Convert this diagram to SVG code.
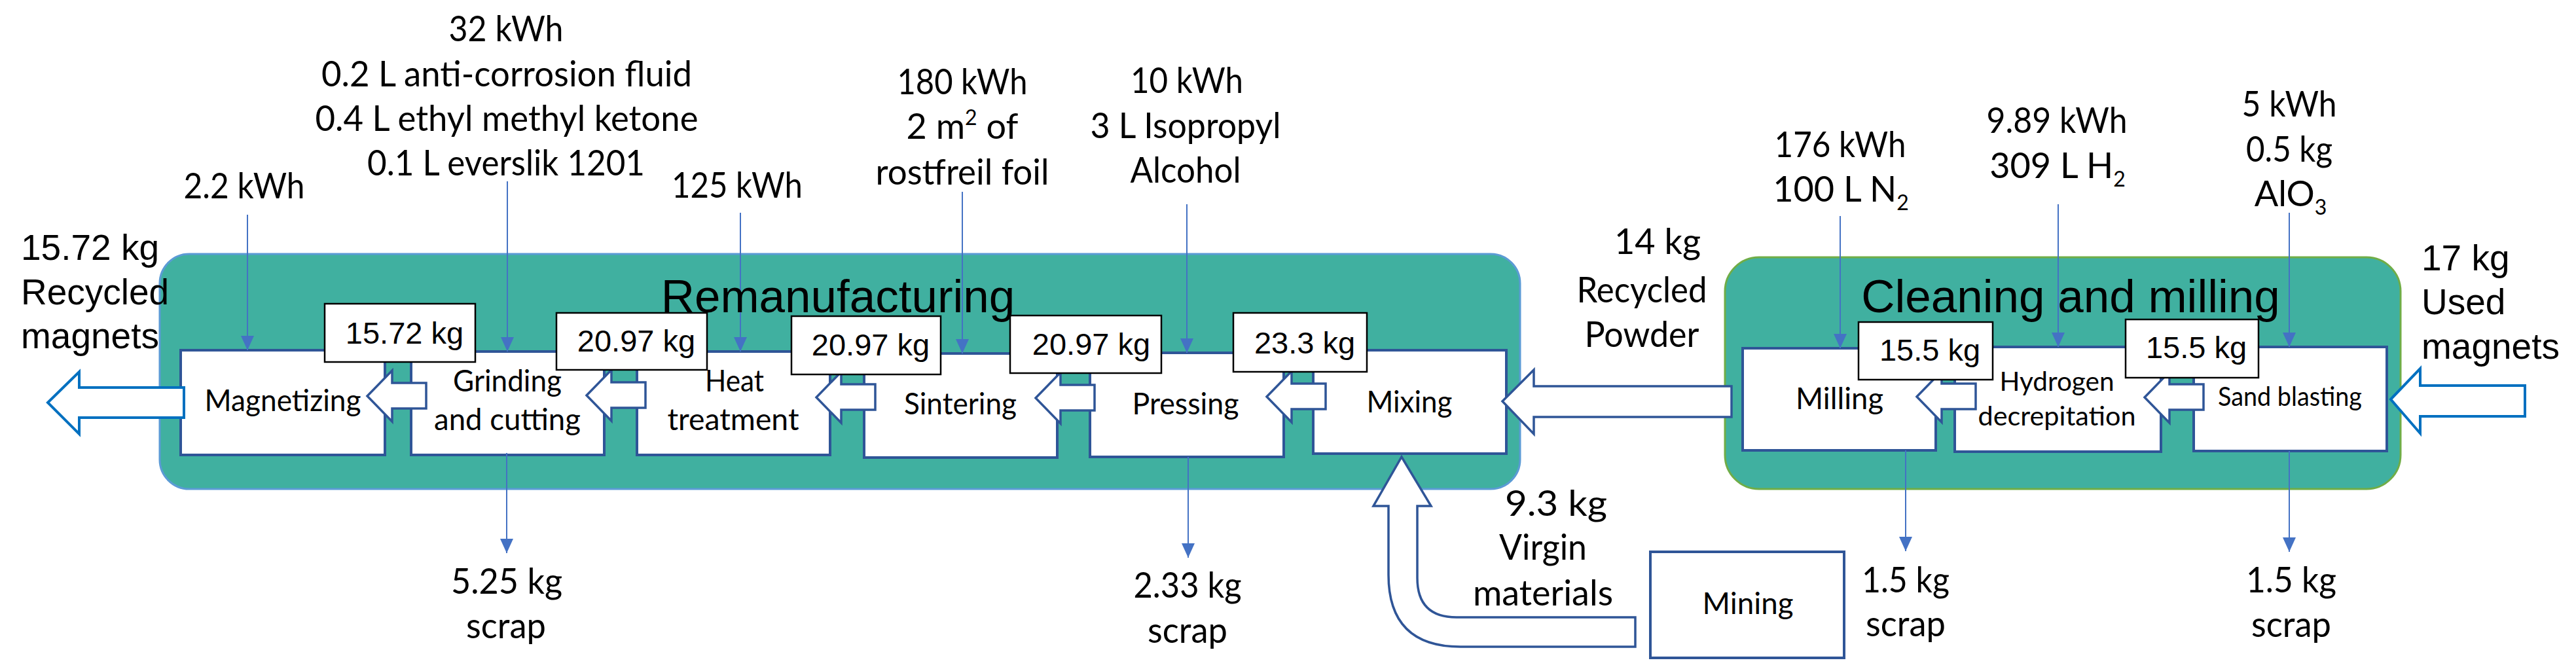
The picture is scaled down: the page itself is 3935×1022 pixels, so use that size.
<svg xmlns="http://www.w3.org/2000/svg" width="3935" height="1022" viewBox="0 0 3935 1022">
<style>
.cont-r{fill:#40B0A0;stroke:#5B9BD5;stroke-width:3}
.cont-c{fill:#40B0A0;stroke:#70AD47;stroke-width:3}
.proc{fill:#fff;stroke:#2F5597;stroke-width:4}
.kg{fill:#fff;stroke:#000;stroke-width:2.5}
.blk{fill:#fff;stroke:#2F5597;stroke-width:3.5}
.blk2{fill:#fff;stroke:#0070C0;stroke-width:4}
.thin{stroke:#4472C4;stroke-width:2;fill:none;marker-end:url(#ah)}
.ar{font-family:"Liberation Sans",Arial,sans-serif;fill:#000}
.ca{font-family:Lato,"Open Sans",sans-serif;fill:#000}
.t50{font-size:54px;text-anchor:middle}
.t43{font-size:47px;text-anchor:middle}
.t38{font-size:41px;text-anchor:middle}
.kgt{font-size:47px;text-anchor:middle}
.side{font-size:55px}
.title{font-size:71px;text-anchor:middle}
</style>
<defs>
<marker id="ah" markerUnits="userSpaceOnUse" markerWidth="22" markerHeight="20" viewBox="0 0 22 20" refX="22" refY="10" orient="auto"><path d="M0,0 L22,10 L0,20 Z" fill="#4472C4"/></marker>
<path id="sa" d="M0,0 L38,-39 L38,-20 L90,-20 L90,19 L38,19 L38,39 Z"/>
</defs>

<g id="remanufacturing">
<rect class="cont-r" x="244" y="388" width="2078" height="359" rx="45" ry="45"/>
</g>
<g id="cleaning-and-milling">
<rect class="cont-c" x="2635" y="393" width="1032" height="354" rx="52" ry="52"/>
</g>

<g id="magnetizing"><rect class="proc" x="276" y="535" width="312" height="160"/><text class="ca t43" x="432" y="628" textLength="239" lengthAdjust="spacingAndGlyphs">Magnetizing</text></g>
<g id="grinding"><rect class="proc" x="628" y="537" width="295" height="158"/><text class="ca t43" x="775" y="598" textLength="166" lengthAdjust="spacingAndGlyphs">Grinding</text><text class="ca t43" x="775" y="657" textLength="224" lengthAdjust="spacingAndGlyphs">and cutting</text></g>
<g id="heat-treatment"><rect class="proc" x="973" y="537" width="295" height="158"/><text class="ca t43" x="1122" y="598" textLength="90" lengthAdjust="spacingAndGlyphs">Heat</text><text class="ca t43" x="1120" y="657" textLength="201" lengthAdjust="spacingAndGlyphs">treatment</text></g>
<g id="sintering"><rect class="proc" x="1320" y="540" width="295" height="159"/><text class="ca t43" x="1467" y="633" textLength="172" lengthAdjust="spacingAndGlyphs">Sintering</text></g>
<g id="pressing"><rect class="proc" x="1665" y="539" width="296" height="159"/><text class="ca t43" x="1811" y="633" textLength="163" lengthAdjust="spacingAndGlyphs">Pressing</text></g>
<g id="mixing"><rect class="proc" x="2006" y="535" width="295" height="158"/><text class="ca t43" x="2153" y="630" textLength="131" lengthAdjust="spacingAndGlyphs">Mixing</text></g>
<g id="milling"><rect class="proc" x="2662" y="532" width="295" height="156"/><text class="ca t43" x="2810" y="625" textLength="134" lengthAdjust="spacingAndGlyphs">Milling</text></g>
<g id="hydrogen-decrepitation"><rect class="proc" x="2986" y="530" width="315" height="160"/><text class="ca t38" x="3142" y="597" textLength="175" lengthAdjust="spacingAndGlyphs">Hydrogen</text><text class="ca t38" x="3142" y="650" textLength="241" lengthAdjust="spacingAndGlyphs">decrepitation</text></g>
<g id="sand-blasting"><rect class="proc" x="3351" y="530" width="295" height="159"/><text class="ca t38" x="3498" y="620" textLength="220" lengthAdjust="spacingAndGlyphs">Sand blasting</text></g>
<g id="mining"><rect class="proc" x="2521" y="843" width="296" height="162"/><text class="ca t43" x="2670" y="938" textLength="139" lengthAdjust="spacingAndGlyphs">Mining</text></g>

<g id="connectors">
<path class="blk2" d="M73,615 L121,568 L121,592 L281,592 L281,638 L121,638 L121,663 Z"/>
<path class="blk2" d="M3652,610 L3697,563 L3697,589 L3857,589 L3857,636 L3697,636 L3697,662 Z"/>
<path class="blk" d="M2295,613 L2343,565 L2343,590 L2645,590 L2645,637 L2343,637 L2343,663 Z"/>
<path class="blk" d="M2141,698 L2186,773 L2165,773 L2165,883 Q2165,943 2225,943 L2498,943 L2498,988 L2231,988 Q2121,988 2121,878 L2121,773 L2098,773 Z"/>
<use href="#sa" class="blk" transform="translate(561,605)"/>
<use href="#sa" class="blk" transform="translate(896,604)"/>
<use href="#sa" class="blk" transform="translate(1247,607)"/>
<use href="#sa" class="blk" transform="translate(1582,608)"/>
<use href="#sa" class="blk" transform="translate(1935,606)"/>
<use href="#sa" class="blk" transform="translate(2928,606)"/>
<use href="#sa" class="blk" transform="translate(3276,607)"/>

<g id="flow-labels">
<rect class="kg" x="496" y="464" width="230" height="89"/><text class="ar kgt" x="618" y="525">15.72 kg</text>
<rect class="kg" x="850" y="478" width="230" height="87"/><text class="ar kgt" x="972" y="537">20.97 kg</text>
<rect class="kg" x="1209" y="483" width="228" height="89"/><text class="ar kgt" x="1330" y="543">20.97 kg</text>
<rect class="kg" x="1543" y="482" width="231" height="88"/><text class="ar kgt" x="1667" y="542">20.97 kg</text>
<rect class="kg" x="1884" y="478" width="204" height="90"/><text class="ar kgt" x="1993" y="540">23.3 kg</text>
<rect class="kg" x="2839" y="492" width="205" height="88"/><text class="ar kgt" x="2948" y="551">15.5 kg</text>
<rect class="kg" x="3247" y="488" width="203" height="89"/><text class="ar kgt" x="3355" y="547">15.5 kg</text>
</g>

<line class="thin" x1="378" y1="328" x2="378" y2="535"/>
<line class="thin" x1="775" y1="277" x2="775" y2="537"/>
<line class="thin" x1="1131" y1="325" x2="1131" y2="537"/>
<line class="thin" x1="1470" y1="293" x2="1470" y2="540"/>
<line class="thin" x1="1813" y1="312" x2="1813" y2="539"/>
<line class="thin" x1="2811" y1="330" x2="2811" y2="532"/>
<line class="thin" x1="3144" y1="312" x2="3144" y2="530"/>
<line class="thin" x1="3497" y1="325" x2="3497" y2="530"/>
<line class="thin" x1="774" y1="692" x2="774" y2="845"/>
<line class="thin" x1="1815" y1="698" x2="1815" y2="852"/>
<line class="thin" x1="2911" y1="688" x2="2911" y2="842"/>
<line class="thin" x1="3497" y1="689" x2="3497" y2="843"/>
</g>

<g id="titles">
<text class="ar title" x="1280" y="477">Remanufacturing</text>
<text class="ar title" x="3163" y="477">Cleaning and milling</text>
</g>

<g id="labels">
<text class="ar side" x="32" y="397">15.72 kg</text>
<text class="ar side" x="32" y="465">Recycled</text>
<text class="ar side" x="32" y="532">magnets</text>
<text class="ar side" x="3699" y="413">17 kg</text>
<text class="ar side" x="3699" y="480">Used</text>
<text class="ar side" x="3699" y="548">magnets</text>

<text class="ca t50" x="373" y="303" textLength="185" lengthAdjust="spacingAndGlyphs">2.2 kWh</text>
<text class="ca t50" x="773" y="63" textLength="175" lengthAdjust="spacingAndGlyphs">32 kWh</text>
<text class="ca t50" x="774" y="132" textLength="566" lengthAdjust="spacingAndGlyphs">0.2 L anti-corrosion fluid</text>
<text class="ca t50" x="774" y="200" textLength="585" lengthAdjust="spacingAndGlyphs">0.4 L ethyl methyl ketone</text>
<text class="ca t50" x="773" y="268" textLength="424" lengthAdjust="spacingAndGlyphs">0.1 L everslik 1201</text>
<text class="ca t50" x="1126" y="302" textLength="200" lengthAdjust="spacingAndGlyphs">125 kWh</text>
<text class="ca t50" x="1470" y="144" textLength="199" lengthAdjust="spacingAndGlyphs">180 kWh</text>
<text class="ca t50" x="1470" y="212">2 m<tspan font-size="32" dy="-21">2</tspan><tspan dy="21"> of</tspan></text>
<text class="ca t50" x="1470" y="282" textLength="265" lengthAdjust="spacingAndGlyphs">rostfreil foil</text>
<text class="ca t50" x="1813" y="142" textLength="172" lengthAdjust="spacingAndGlyphs">10 kWh</text>
<text class="ca t50" x="1811" y="211" textLength="291" lengthAdjust="spacingAndGlyphs">3 L Isopropyl</text>
<text class="ca t50" x="1811" y="279" textLength="169" lengthAdjust="spacingAndGlyphs">Alcohol</text>
<text class="ca t50" x="2532" y="388" textLength="132" lengthAdjust="spacingAndGlyphs">14 kg</text>
<text class="ca t50" x="2508" y="462" textLength="199" lengthAdjust="spacingAndGlyphs">Recycled</text>
<text class="ca t50" x="2508" y="530" textLength="175" lengthAdjust="spacingAndGlyphs">Powder</text>
<text class="ca t50" x="2811" y="240" textLength="201" lengthAdjust="spacingAndGlyphs">176 kWh</text>
<text class="ca t50" x="2812" y="308">100 L N<tspan font-size="32" dy="13">2</tspan></text>
<text class="ca t50" x="3142" y="203" textLength="215" lengthAdjust="spacingAndGlyphs">9.89 kWh</text>
<text class="ca t50" x="3143" y="272">309 L H<tspan font-size="32" dy="13">2</tspan></text>
<text class="ca t50" x="3497" y="178" textLength="145" lengthAdjust="spacingAndGlyphs">5 kWh</text>
<text class="ca t50" x="3497" y="247" textLength="132" lengthAdjust="spacingAndGlyphs">0.5 kg</text>
<text class="ca t50" x="3499" y="315">AlO<tspan font-size="32" dy="13">3</tspan></text>
<text class="ca t50" x="2377" y="788" textLength="156" lengthAdjust="spacingAndGlyphs">9.3 kg</text>
<text class="ca t50" x="2357" y="855" textLength="134" lengthAdjust="spacingAndGlyphs">Virgin</text>
<text class="ca t50" x="2357" y="925" textLength="214" lengthAdjust="spacingAndGlyphs">materials</text>
<text class="ca t50" x="774" y="907" textLength="170" lengthAdjust="spacingAndGlyphs">5.25 kg</text>
<text class="ca t50" x="773" y="975" textLength="122" lengthAdjust="spacingAndGlyphs">scrap</text>
<text class="ca t50" x="1814" y="913" textLength="165" lengthAdjust="spacingAndGlyphs">2.33 kg</text>
<text class="ca t50" x="1814" y="982" textLength="122" lengthAdjust="spacingAndGlyphs">scrap</text>
<text class="ca t50" x="2911" y="905" textLength="134" lengthAdjust="spacingAndGlyphs">1.5 kg</text>
<text class="ca t50" x="2911" y="972" textLength="122" lengthAdjust="spacingAndGlyphs">scrap</text>
<text class="ca t50" x="3500" y="905" textLength="138" lengthAdjust="spacingAndGlyphs">1.5 kg</text>
<text class="ca t50" x="3500" y="973" textLength="122" lengthAdjust="spacingAndGlyphs">scrap</text>
</g>
</svg>
